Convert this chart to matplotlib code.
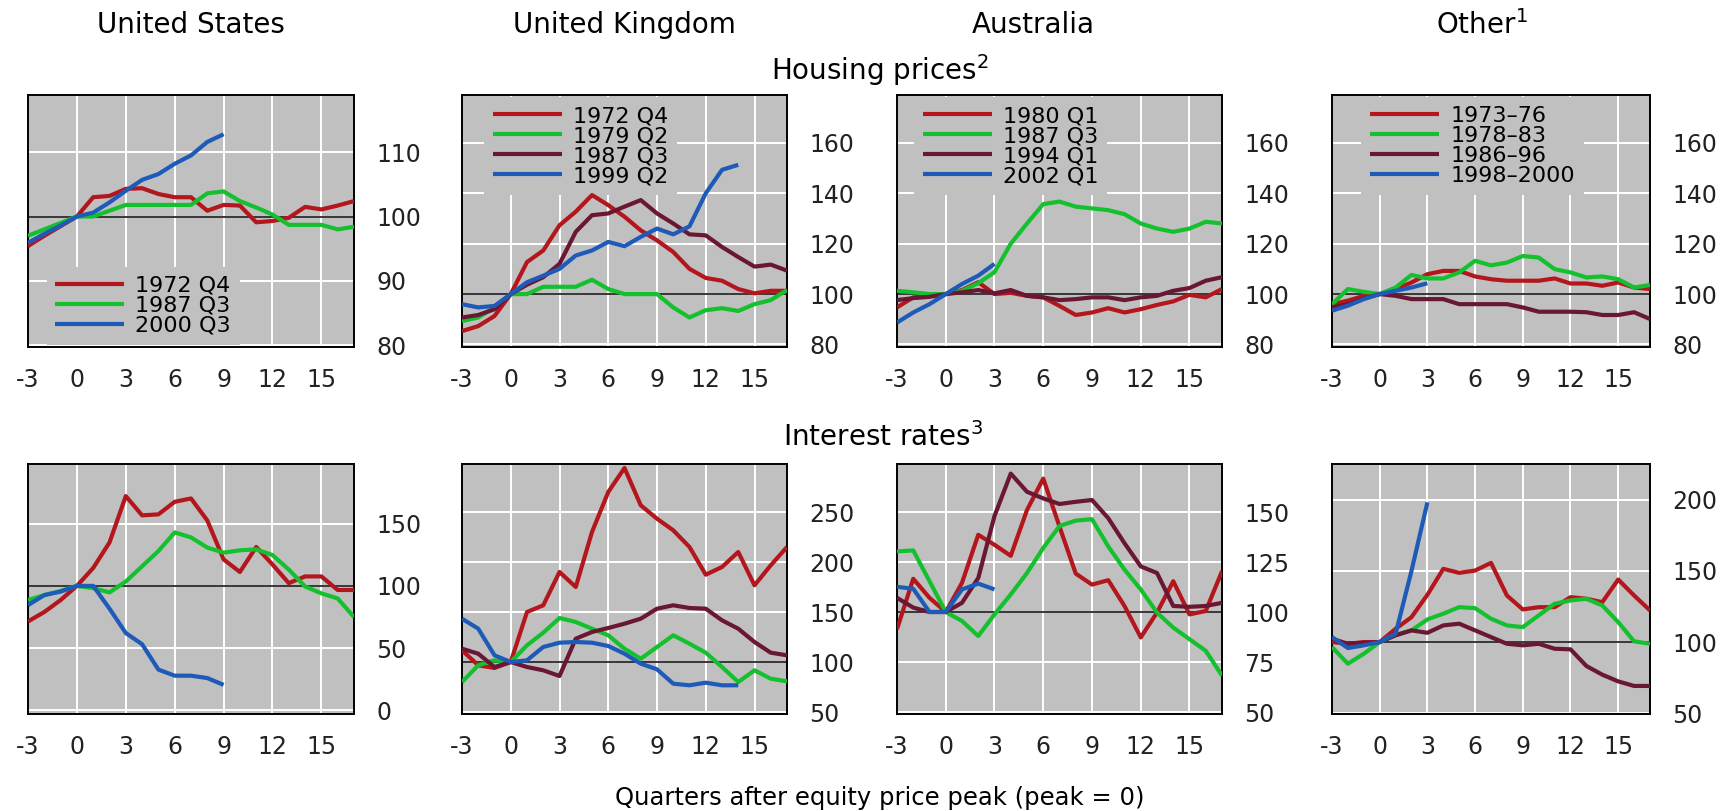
import matplotlib.pyplot as plt

# quarters after equity price peak
quarters = list(range(-3, 18))

# colours used for the four episodes of each panel
red = '#B3171D'
green = '#14C02E'
maroon = '#6A1734'
blue = '#1E5BB8'

# --- housing prices (peak = 100) ---
us_hp_labels = ['1972 Q4', '1987 Q3', '2000 Q3']
us_hp_1972 = [95.4, 97.0, 98.5, 100, 103, 103.2, 104.3, 104.4, 103.5, 103, 103, 100.9, 101.8, 101.7, 99.1, 99.3, 99.8, 101.5, 101.1, 101.7, 102.4]
us_hp_1987 = [97, 98, 99, 100, 100, 100.9, 101.8, 101.8, 101.8, 101.8, 101.8, 103.6, 103.9, 102.4, 101.4, 100.3, 98.7, 98.7, 98.7, 98, 98.4]
us_hp_2000 = [95.9, 97.3, 98.6, 100, 100.6, 102.2, 104, 105.7, 106.6, 108.2, 109.5, 111.6, 112.8]

uk_hp_labels = ['1972 Q4', '1979 Q2', '1987 Q3', '1999 Q2']
uk_hp_1972 = [85.3, 87.3, 91.3, 100, 112.7, 117.3, 127.3, 132.7, 139.3, 135.3, 130.7, 125.3, 121.3, 116.7, 110, 106.4, 105.3, 102, 100.3, 101.3, 101.3]
uk_hp_1979 = [89.3, 90.7, 94.7, 100, 100, 102.9, 102.9, 102.9, 105.7, 102, 100, 100, 100, 94.7, 90.7, 93.6, 94.4, 93.3, 96, 97.6, 101.6]
uk_hp_1987 = [90.7, 91.7, 94, 100, 103.7, 106.7, 112, 124.7, 131.3, 132, 134.7, 137.3, 132, 128, 123.7, 123.3, 118.7, 114.7, 110.9, 111.7, 109.3]
uk_hp_1999 = [96, 94.7, 95.3, 100, 104.7, 107.3, 110, 115.3, 117.3, 120.7, 119, 122.7, 126, 123.7, 126.9, 140, 149.3, 151.3]

au_hp_labels = ['1980 Q1', '1987 Q3', '1994 Q1', '2002 Q1']
au_hp_1980 = [94.7, 98.7, 99.3, 100, 101.6, 104.7, 100, 100.5, 99.3, 98.7, 95.3, 91.7, 92.7, 94.4, 92.7, 94, 95.7, 97.1, 99.7, 98.7, 102]
au_hp_1987 = [101.3, 100.7, 100, 100, 101.3, 104.3, 108.7, 120, 128, 135.7, 136.7, 134.7, 134, 133.3, 131.7, 128, 126, 124.7, 126, 128.7, 128]
au_hp_1994 = [97.6, 98.4, 98.9, 100, 100.7, 101.6, 100.3, 101.6, 99.3, 98.7, 97.6, 98, 98.7, 98.7, 97.6, 98.7, 99.3, 101.3, 102.4, 105.3, 106.7]
au_hp_2002 = [88.7, 92.7, 96, 100, 104, 107.3, 112]

ot_hp_labels = ['1973–76', '1978–83', '1986–96', '1998–2000']
ot_hp_7376 = [96, 97.4, 99.3, 100, 102, 104.6, 107.9, 109.2, 109.2, 107, 105.9, 105.3, 105.3, 105.3, 106.2, 104.2, 104.2, 103.3, 104.6, 102.6, 102]
ot_hp_7883 = [96, 102, 100.9, 100, 102.6, 107.6, 106.2, 106.2, 108.6, 113.2, 111.4, 112.5, 115.1, 114.5, 109.9, 108.6, 106.6, 107, 105.9, 102.6, 103.6]
ot_hp_8696 = [94.7, 96, 98.3, 100, 99.3, 98, 98, 98, 96, 96, 96, 96, 94.7, 93, 93, 93, 92.8, 91.7, 91.7, 92.8, 90.1]
ot_hp_9800 = [93.4, 95.4, 98, 100, 101.3, 102.6, 104.3]

# --- interest rates (peak = 100) ---
us_ir_1972 = [71.4, 79, 88.6, 100, 114.4, 134.9, 172.2, 156.7, 157.5, 167.6, 170.3, 152.6, 121.3, 111.2, 131.3, 117.2, 102.2, 107.6, 107.6, 96.7, 96.7]
us_ir_1987 = [88.6, 92.6, 95.9, 100, 98.1, 94.8, 103.5, 115.8, 128, 143, 139, 130.8, 126.7, 128.6, 129.4, 124.8, 113.1, 99.5, 94, 89.9, 74.9]
us_ir_2000 = [84.5, 92.6, 95.4, 100, 100, 81.7, 62.1, 53.1, 32.7, 27.8, 27.8, 25.9, 20.4]

uk_ir_1972 = [111.7, 96.7, 94, 100, 150, 156.7, 190, 175, 230, 270, 294, 256.7, 243.3, 231.7, 215, 187.3, 195, 210, 176.7, 196.7, 215]
uk_ir_1979 = [80, 96.7, 101.7, 100, 116.7, 129.3, 144, 140, 133.3, 126.7, 113.3, 103.3, 115, 126.7, 118.3, 109.3, 95, 80, 91.7, 83.3, 80.7]
uk_ir_1987 = [113.3, 108.3, 95, 100, 95, 91.7, 86, 123.3, 130, 134, 138.3, 143.3, 153.3, 156.7, 154, 153.3, 141.7, 133.3, 120, 109.3, 106.7]
uk_ir_1999 = [143.3, 133.3, 106.7, 100, 101.7, 115, 119.3, 120, 119.3, 116, 108.3, 98.3, 92.7, 78.3, 76.7, 79.3, 76.7, 76.7]

au_ir_1980 = [91.4, 116.6, 107.1, 100, 114.6, 138.6, 133.6, 128.1, 151, 166.7, 142.7, 119.2, 113.7, 115.9, 103, 87.3, 99.7, 115.4, 98.8, 100.5, 120.4]
au_ir_1987 = [130.3, 130.8, 115.4, 100, 95.5, 88, 98.8, 108.8, 119.5, 132, 143, 145.7, 146.4, 132.8, 121.2, 111.3, 99.7, 92.2, 86.4, 80.6, 68.2]
au_ir_1994 = [107.1, 102.2, 100, 100, 104.6, 117, 148, 169.2, 160.1, 156.8, 154, 155.1, 156, 146.9, 134.4, 122.8, 119.5, 103, 102.6, 103, 104.6]
au_ir_2002 = [112.6, 111.6, 100, 100, 111.3, 114.2, 111.3]

ot_ir_7376 = [100, 98.8, 100, 100, 109.3, 117.5, 133.2, 151.4, 148.6, 150.2, 155.6, 132.7, 122.9, 124.5, 124.5, 131.5, 130.4, 128, 143.9, 132.7, 122.2]
ot_ir_7883 = [96.5, 84.8, 91.8, 100, 105.1, 108.2, 115.9, 119.9, 124.5, 123.8, 116.4, 111.7, 110.5, 118.7, 126.9, 129.2, 130.4, 125.7, 114, 100.5, 98.8]
ot_ir_8696 = [102.3, 98.8, 99.5, 100, 104.7, 108.2, 106.5, 111.7, 112.9, 108.2, 103.5, 98.8, 97.7, 98.8, 95.3, 94.9, 83.2, 77.1, 72.4, 69.2, 69.2]
ot_ir_9800 = [103.5, 95.8, 97.7, 100, 105.8, 150, 198.1]

col_titles = ['United States', 'United Kingdom', 'Australia', r'Other$^1$']
x_ticks = [-3, 0, 3, 6, 9, 12, 15]

# panel layout in pixels of the 1733x811 picture
W, H = 1733, 811
col_px = [(28, 354), (462, 787), (897, 1222), (1332, 1650)]
row_px = [(95, 347), (464, 714)]
title_x = [191, 624, 1033, 1482]

panels = [
    # row 0: housing prices
    dict(row=0, col=0, series=[us_hp_1972, us_hp_1987, us_hp_2000], colors=[red, green, blue],
         labels=us_hp_labels, ylim=(79.7, 118.9), yticks=[80, 90, 100, 110],
         leg=dict(loc='lower left', bbox_to_anchor=(0.05, 0.0))),
    dict(row=0, col=1, series=[uk_hp_1972, uk_hp_1979, uk_hp_1987, uk_hp_1999], colors=[red, green, maroon, blue],
         labels=uk_hp_labels, ylim=(79, 179), yticks=[80, 100, 120, 140, 160],
         leg=dict(loc='upper left', bbox_to_anchor=(0.06, 1.0))),
    dict(row=0, col=2, series=[au_hp_1980, au_hp_1987, au_hp_1994, au_hp_2002], colors=[red, green, maroon, blue],
         labels=au_hp_labels, ylim=(79, 179), yticks=[80, 100, 120, 140, 160],
         leg=dict(loc='upper left', bbox_to_anchor=(0.046, 1.0))),
    dict(row=0, col=3, series=[ot_hp_7376, ot_hp_7883, ot_hp_8696, ot_hp_9800], colors=[red, green, maroon, blue],
         labels=ot_hp_labels, ylim=(79, 179), yticks=[80, 100, 120, 140, 160],
         leg=dict(loc='upper left', bbox_to_anchor=(0.085, 1.0))),
    # row 1: interest rates
    dict(row=1, col=0, series=[us_ir_1972, us_ir_1987, us_ir_2000], colors=[red, green, blue],
         labels=None, ylim=(-3, 198), yticks=[0, 50, 100, 150]),
    dict(row=1, col=1, series=[uk_ir_1972, uk_ir_1979, uk_ir_1987, uk_ir_1999], colors=[red, green, maroon, blue],
         labels=None, ylim=(48, 298), yticks=[50, 100, 150, 200, 250]),
    dict(row=1, col=2, series=[au_ir_1980, au_ir_1987, au_ir_1994, au_ir_2002], colors=[red, green, maroon, blue],
         labels=None, ylim=(49, 174), yticks=[50, 75, 100, 125, 150]),
    dict(row=1, col=3, series=[ot_ir_7376, ot_ir_7883, ot_ir_8696, ot_ir_9800], colors=[red, green, maroon, blue],
         labels=None, ylim=(49.5, 225), yticks=[50, 100, 150, 200]),
]

plt.rcParams['font.family'] = 'DejaVu Sans'
plt.rcParams['axes.unicode_minus'] = False
fig = plt.figure(figsize=(W / 100, H / 100), dpi=100)

for p in panels:
    x0, x1 = col_px[p['col']]
    y0, y1 = row_px[p['row']]
    ax = fig.add_axes([x0 / W, 1 - y1 / H, (x1 - x0) / W, (y1 - y0) / H])
    ax.set_facecolor('#C0C0C0')
    ax.set_xlim(-3, 17)
    ax.set_ylim(*p['ylim'])
    ax.set_xticks(x_ticks)
    ax.set_yticks(p['yticks'])
    ax.yaxis.tick_right()
    ax.tick_params(axis='both', length=0, labelsize=17, colors='#222222')
    ax.tick_params(axis='y', pad=16)
    ax.tick_params(axis='x', pad=15)
    ax.grid(True, color='white', linewidth=1.4, zorder=0)
    ax.set_axisbelow(True)
    for s in ax.spines.values():
        s.set_linewidth(1.4)
        s.set_color('black')
    ax.axhline(100, color='black', linewidth=1.1, zorder=1)
    for i, vals in enumerate(p['series']):
        lab = p['labels'][i] if p['labels'] else None
        ax.plot(quarters[:len(vals)], vals, color=p['colors'][i], linewidth=3.0,
                label=lab, zorder=3 + i, solid_capstyle='butt')
    if p['labels']:
        leg = ax.legend(fontsize=16, frameon=True, facecolor='#C0C0C0', edgecolor='none', framealpha=1,
                        handlelength=3.1, handletextpad=0.5, labelspacing=0.0, borderpad=0.4,
                        borderaxespad=0.1, fancybox=False, **p['leg'])
        leg.set_zorder(2)

# column titles
for c, t in enumerate(col_titles):
    fig.text(title_x[c] / W, 1 - 25 / H, t, ha='center', va='center', fontsize=20)

fig.text(880 / W, 1 - 70 / H, r'Housing prices$^2$', ha='center', va='center', fontsize=20)
fig.text(883 / W, 1 - 437 / H, r'Interest rates$^3$', ha='center', va='center', fontsize=20)
fig.text(880 / W, 1 - 798 / H, 'Quarters after equity price peak (peak = 0)', ha='center', va='center', fontsize=17.5)

fig.savefig('out.png', dpi=100, facecolor='white')
